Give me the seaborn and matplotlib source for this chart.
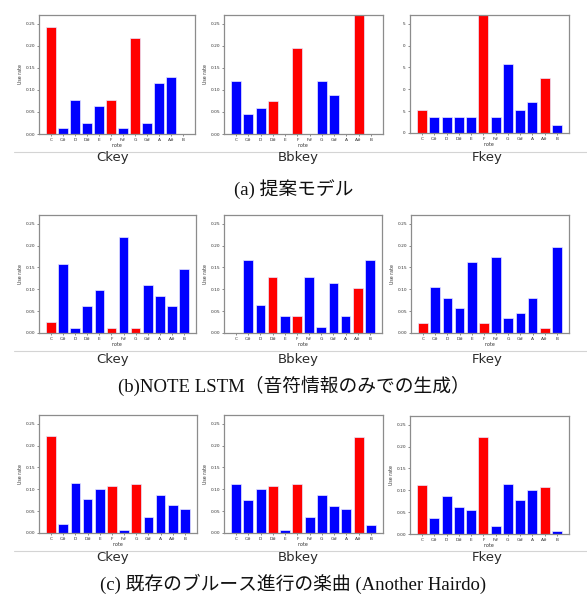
import numpy as np
import pandas as pd
import matplotlib
matplotlib.use("Agg")
import matplotlib.pyplot as plt
import seaborn as sns
from matplotlib.lines import Line2D
from matplotlib.transforms import Bbox, TransformedBbox

notes = ['C', 'C#', 'D', 'D#', 'E', 'F', 'F#', 'G', 'G#', 'A', 'A#', 'B']

# (a) proposed model
a_ckey = [0.2436, 0.0128, 0.0769, 0.0256, 0.0641, 0.0769, 0.0128, 0.2179, 0.0256, 0.1154, 0.1282, 0.0]
a_bbkey = [0.1194, 0.0448, 0.0597, 0.0746, 0.0, 0.1940, 0.0, 0.1194, 0.0896, 0.0, 0.2985, 0.0]
a_fkey = [0.0536, 0.0357, 0.0357, 0.0357, 0.0357, 0.3393, 0.0357, 0.1577, 0.0536, 0.0714, 0.1250, 0.0179]
# (b) NOTE LSTM
b_ckey = [0.0244, 0.1585, 0.0122, 0.0610, 0.0976, 0.0122, 0.2195, 0.0122, 0.1098, 0.0854, 0.0610, 0.1463]
b_bbkey = [0.0, 0.1667, 0.0641, 0.1282, 0.0385, 0.0385, 0.1282, 0.0128, 0.1154, 0.0385, 0.1026, 0.1667]
b_fkey = [0.0227, 0.1045, 0.0805, 0.0570, 0.1626, 0.0227, 0.1740, 0.0342, 0.0456, 0.0805, 0.0114, 0.1968]
# (c) existing blues piece
c_ckey = [0.2211, 0.0205, 0.1140, 0.0767, 0.1018, 0.1071, 0.0076, 0.1117, 0.0372, 0.0874, 0.0630, 0.0547]
c_bbkey = [0.1132, 0.0760, 0.1010, 0.1064, 0.0068, 0.1117, 0.0365, 0.0866, 0.0615, 0.0540, 0.2204, 0.0190]
c_fkey = [0.1117, 0.0365, 0.0866, 0.0615, 0.0540, 0.2211, 0.0190, 0.1140, 0.0767, 0.1018, 0.1071, 0.0068]

key_names = ['Ckey', 'Bbkey', 'Fkey']
red_notes = {'Ckey': ['C', 'F', 'G'], 'Bbkey': ['D#', 'F', 'A#'], 'Fkey': ['C', 'F', 'A#']}
captions = ['(a) 提案モデル', '(b)NOTE LSTM（音符情報のみでの生成）',
            '(c) 既存のブルース進行の楽曲 (Another Hairdo)']

rows = [[a_ckey, a_bbkey, a_fkey], [b_ckey, b_bbkey, b_fkey], [c_ckey, c_bbkey, c_fkey]]

sns.set_style('white')
plt.rcParams['font.family'] = ['DejaVu Sans', 'Noto Sans CJK JP']

W, H = 587, 601
fig = plt.figure(figsize=(W / 100, H / 100), dpi=100)

# axes pixel boxes: (left, top, right, bottom)
boxes = [
    [(39, 15, 195, 134), (224, 15, 383, 134), (410, 15, 569, 133)],
    [(39, 215, 196, 333), (224, 215, 382, 333), (411, 215, 569, 333)],
    [(39, 415, 197, 533), (224, 415, 383, 533), (410, 416, 569, 534)],
]
line_y = [152, 351, 551]
label_y = [158, 359, 557]
label_x = [113, 298, 487]
caption_y = [189, 386, 584]

def px_box(l, t, r, b):
    return [l / W, 1 - b / H, (r - l) / W, (b - t) / H]

for ri, row in enumerate(rows):
    for ki, vals in enumerate(row):
        key = key_names[ki]
        ax = fig.add_axes(px_box(*boxes[ri][ki]))
        df = pd.DataFrame({'note': notes, 'rate': vals})
        pal = {n: ('#ff0000' if n in red_notes[key] else '#0000ff') for n in notes}
        sns.barplot(data=df, x='note', y='rate', hue='note', palette=pal, legend=False,
                    order=notes, width=0.8, saturation=1, edgecolor='#e8e8ff', linewidth=0.5, ax=ax)
        ax.set_xlim(-0.99, 11.99)
        ax.set_ylim(0, 0.27)
        ax.set_yticks([0, 0.05, 0.10, 0.15, 0.20, 0.25])
        ax.set_yticklabels(['0.00', '0.05', '0.10', '0.15', '0.20', '0.25'])
        ax.tick_params(axis='both', labelsize=3.2, length=1.2, width=0.4, pad=1.5,
                       colors='#333333', left=True, bottom=True)
        ax.set_xlabel('note', fontsize=3.4, labelpad=1, color='#333333')
        if ri == 0 and ki == 2:
            ax.set_ylabel('')
            clip = TransformedBbox(Bbox([[402.5 / W, 0], [1, 1]]), fig.transFigure)
            for lab in ax.get_yticklabels():
                lab.set_clip_on(True)
                lab.set_clip_box(clip)
        else:
            ax.set_ylabel('Use rate', fontsize=3.4, labelpad=2, color='#333333')
        for s in ax.spines.values():
            s.set_color('#8c8c8c')
            s.set_linewidth(0.9)
        fig.text(label_x[ki] / W, 1 - label_y[ri] / H, key, ha='center', va='center',
                 fontsize=9.5, color='#2a2a2a', family=['DejaVu Sans'])
    # separator line
    fig.add_artist(Line2D([14 / W, 1.0], [1 - line_y[ri] / H] * 2,
                          transform=fig.transFigure, color='#d4d4d4', lw=0.8))
    fig.text(0.5, 1 - caption_y[ri] / H, captions[ri], ha='center', va='center',
             fontsize=13.5, color='#111111', family=['Liberation Serif', 'Noto Sans CJK JP'])

fig.savefig('out.png', dpi=100, facecolor='white')
